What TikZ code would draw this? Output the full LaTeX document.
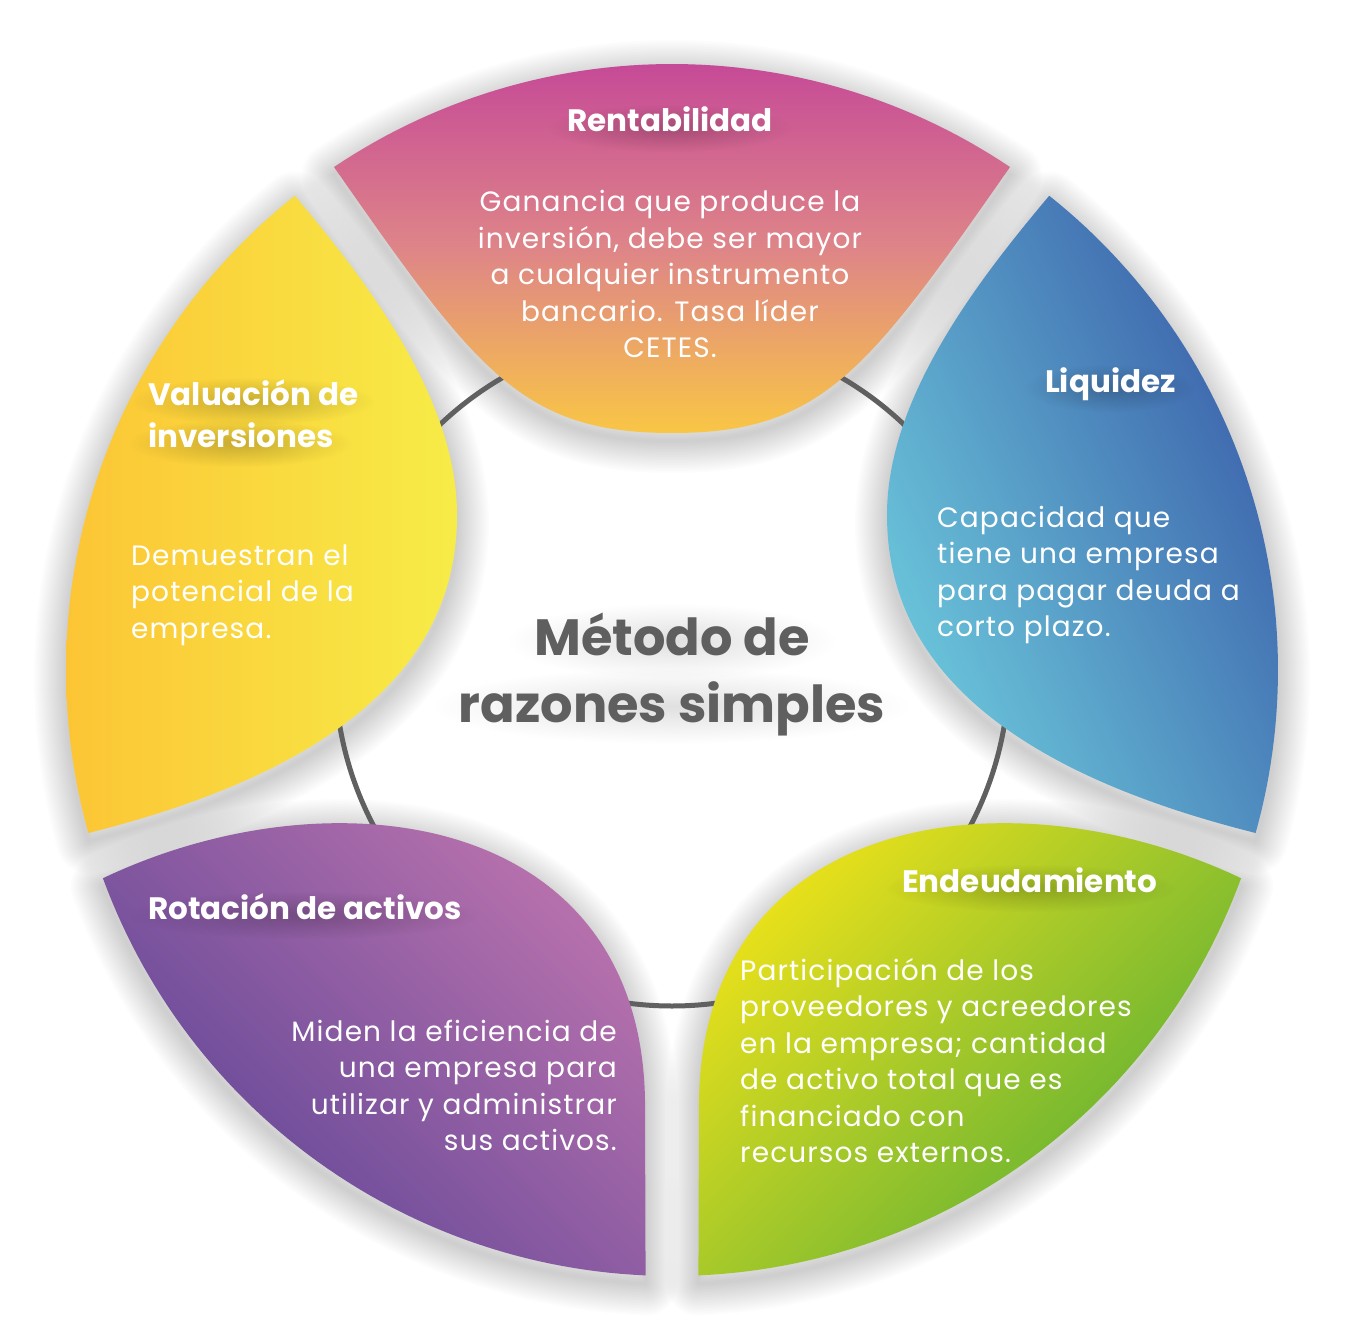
\documentclass[tikz,border=0pt]{standalone}
\usepackage{fontspec}
\usetikzlibrary{fadings}
\setmainfont{Poppins}
\newfontfamily\bodyfont[LetterSpace=4]{Poppins}

\definecolor{ringgray}{HTML}{606060}
\definecolor{titlegray}{HTML}{5F5F5F}
\definecolor{renTop}{HTML}{C64A97}
\definecolor{renMid}{HTML}{DE8588}
\definecolor{renBot}{HTML}{F9C645}
\definecolor{valA}{HTML}{FCC535}
\definecolor{valB}{HTML}{F7EC47}
\definecolor{liqA}{HTML}{6CC9DC}
\definecolor{liqB}{HTML}{3A5EA9}
\definecolor{endA}{HTML}{F3E418}
\definecolor{endM}{HTML}{A4C82A}
\definecolor{endB}{HTML}{58AE34}
\definecolor{rotA}{HTML}{5E4597}
\definecolor{rotB}{HTML}{BD74AE}

% radial soft spot: opaque in the middle, clear at the rim
\tikzfading[name=softspot, inner color=transparent!0, outer color=transparent!100]

% a block of lines whose first baseline is the box baseline
\newcommand\txtblock[3]{\parbox[t]{#1}{#2#3}}

% soft dark spot under a heading: #1 x, #2 y, #3 x radius, #4 y radius, #5 opacity
\newcommand\haze[5]{%
  \fill[black, opacity=#5, path fading=softspot]
    ({#1-#3},{#2-#4}) rectangle ({#1+#3},{#2+#4});%
}

% petal outlines (image coordinates, outer rim on the circle of radius 606 around (672,670))
\def\renpath{plot[domain=236.1:303.9,samples=60] ({672+606*cos(\x)},{670+606*sin(\x)})
  .. controls (867,372) and (822,433) .. (672,433)
  .. controls (522,433) and (477,372) .. (334,167) -- cycle}
\def\valpath{plot[domain=164.4:231.5,samples=60] ({672+606*cos(\x)},{670+606*sin(\x)})
  .. controls (370,285) and (457,400) .. (457,515)
  .. controls (457,620) and (400,755) .. (88.3,833) -- cycle}
\def\rotpath{plot[domain=92.5:159.9,samples=60] ({672+606*cos(\x)},{670+606*sin(\x)})
  .. controls (330,770) and (640,810) .. (645,1100) -- cycle}

\begin{document}
\begin{tikzpicture}[x=1pt,y=-1pt,
  ringline/.style={draw=ringgray, line width=5pt},
  halo/.style={draw=black, draw opacity=0.01, line join=round, fill=none},
  bodytext/.style={text=white, inner sep=0pt, font=\bodyfont\fontsize{28}{36.5}\selectfont},
  headtext/.style={text=white, inner sep=0pt, font=\fontsize{31}{41.5}\selectfont\bfseries},
  centertext/.style={text=titlegray, inner sep=0pt, font=\fontsize{51}{67}\selectfont\bfseries},
]
\useasboundingbox (0,0) rectangle (1350,1343);
\fill[white] (0,0) rectangle (1350,1343);

% soft shadows under the petals
\foreach \w in {4,8,...,64}{
  \draw[halo, line width=\w, shift={(0,8)}] \renpath;
  \draw[halo, line width=\w, shift={(0,8)}] \valpath;
  \draw[halo, line width=\w, shift={(0,8)}] \rotpath;
  \begin{scope}[shift={(1344,0)}, xscale=-1]
    \draw[halo, line width=\w, shift={(0,8)}] \valpath;
    \draw[halo, line width=\w, shift={(0,8)}] \rotpath;
  \end{scope}
}

% central ring
\draw[ringline] (672,669) circle[radius=337];

% petals
\path[top color=renTop, bottom color=renBot, middle color=renMid] \renpath;
\path[top color=valB, bottom color=valA, shading angle=-90] \valpath;
\path[top color=rotB, bottom color=rotA, shading angle=-45] \rotpath;
\begin{scope}[shift={(1344,0)}, xscale=-1]
  \path[top color=liqB, bottom color=liqA, shading angle=-65] \valpath;
  \path[top color=endB, bottom color=endA, middle color=endM, shading angle=-135] \rotpath;
\end{scope}

% shadows under the headings
\haze{672}{641}{165}{38}{0.12}
\haze{671}{706}{240}{38}{0.12}
\haze{670}{128}{122}{24}{0.2}
\haze{253}{401}{122}{24}{0.2}
\haze{240}{443}{112}{24}{0.2}
\haze{1110}{388}{85}{24}{0.2}
\haze{304}{915}{176}{24}{0.2}
\haze{1030}{888}{146}{24}{0.2}

% centre title
\node[centertext, anchor=base] (center) at (672,655)
  {\txtblock{700pt}{\centering}{Método de\\razones simples}};

% Rentabilidad
\node[headtext, anchor=base] (renhead) at (670,132) {Rentabilidad};
\node[bodytext, anchor=base] (renbody) at (670,212)
  {\txtblock{560pt}{\centering}{Ganancia que produce la\\inversión, debe ser mayor\\a cualquier instrumento\\bancario. Tasa líder\\CETES.}};

% Valuación de inversiones
\node[headtext, anchor=base west] (valhead) at (148,405.5)
  {\txtblock{400pt}{\raggedright}{Valuación de\\inversiones}};
\node[bodytext, anchor=base west] (valbody) at (131,565)
  {\txtblock{400pt}{\raggedright}{Demuestran el\\potencial de la\\empresa.}};

% Liquidez
\node[headtext, anchor=base west] (liqhead) at (1045,392.5) {Liquidez};
\node[bodytext, anchor=base west] (liqbody) at (937,527)
  {\txtblock{400pt}{\raggedright}{Capacidad que\\tiene una empresa\\para pagar deuda a\\corto plazo.}};

% Rotación de activos
\node[headtext, anchor=base west] (rothead) at (148,919) {Rotación de activos};
\node[bodytext, anchor=base east] (rotbody) at (617,1041)
  {\txtblock{450pt}{\raggedleft}{Miden la eficiencia de\\una empresa para\\utilizar y administrar\\sus activos.}};

% Endeudamiento
\node[headtext, anchor=base west] (endhead) at (902,892) {Endeudamiento};
\node[bodytext, anchor=base west] (endbody) at (740,980)
  {\txtblock{450pt}{\raggedright}{Participación de los\\proveedores y acreedores\\en la empresa; cantidad\\de activo total que es\\financiado con\\recursos externos.}};

\end{tikzpicture}
\end{document}
